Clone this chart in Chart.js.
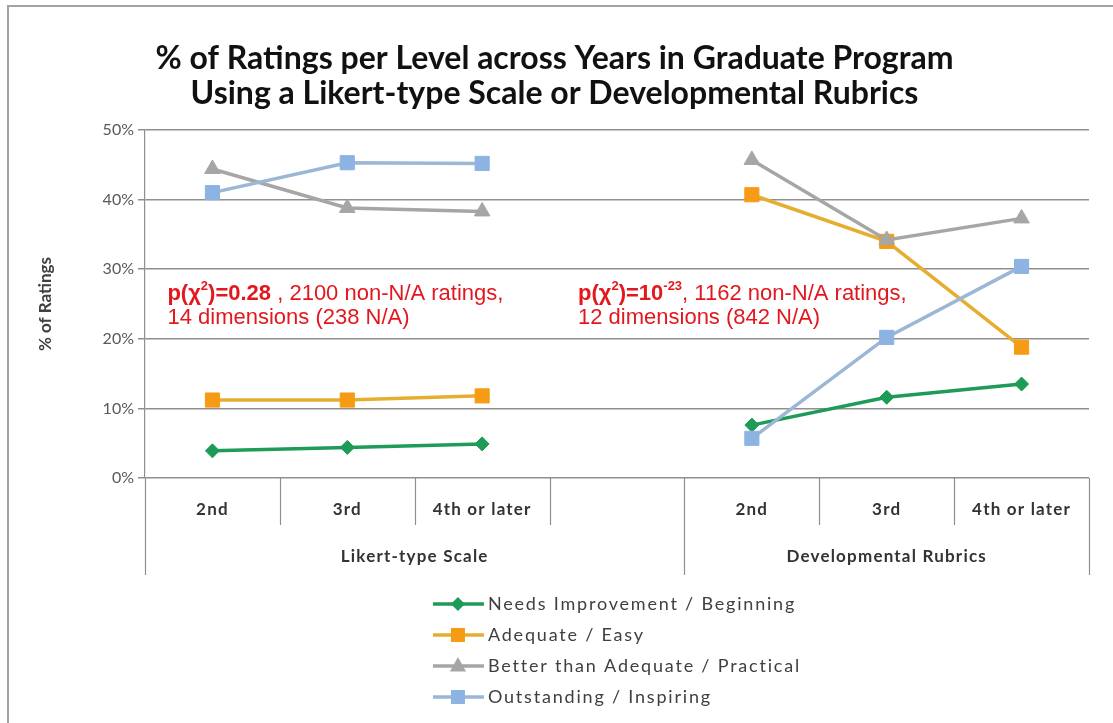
<!DOCTYPE html>
<html>
<head>
<meta charset="utf-8">
<script src="https://cdn.jsdelivr.net/npm/chart.js@4.4.0/dist/chart.umd.min.js"></script>
<style>
  body { margin: 0; background: #fff; }
  canvas { display: block; }
</style>
</head>
<body>
<canvas id="ratingsChart" width="1113" height="723"></canvas>
<script>
// values (percent of ratings)
const years = ['2nd', '3rd', '4th or later', '', '2nd', '3rd', '4th or later'];
const groupLabels = ['Likert-type Scale', 'Developmental Rubrics'];
const groupSizes = [4, 3];
const yTicks = [0, 10, 20, 30, 40, 50];

const needsImprovement = [3.9, 4.4, 4.9, null, 7.6, 11.6, 13.5];
const adequate = [11.2, 11.2, 11.8, null, 40.7, 34.0, 18.8];
const betterThanAdequate = [44.4, 38.8, 38.3, null, 45.7, 34.2, 37.3];
const outstanding = [41.0, 45.3, 45.2, null, 5.7, 20.2, 30.4];

const seriesNames = [
  'Needs Improvement / Beginning',
  'Adequate / Easy',
  'Better than Adequate / Practical',
  'Outstanding / Inspiring'
];

// red notes inside the plot
const leftNote = [
  [{ t: 'p(\u03C7', b: true }, { t: '2', b: true, sup: true }, { t: ')=0.28', b: true }, { t: ' , 2100 non-N/A ratings,' }],
  [{ t: '14 dimensions (238 N/A)' }]
];
const rightNote = [
  [{ t: 'p(\u03C7', b: true }, { t: '2', b: true, sup: true }, { t: ')=10', b: true }, { t: '-23', b: true, sup: true }, { t: ', 1162 non-N/A ratings,' }],
  [{ t: '12 dimensions (842 N/A)' }]
];

function drawRich(ctx, x, y, parts, size) {
  ctx.textBaseline = 'middle';
  ctx.textAlign = 'left';
  parts.forEach(p => {
    const s = p.sup ? Math.round(size * 0.6) : size;
    ctx.font = (p.b ? 'bold ' : '') + s + 'px "Liberation Sans", Arial, sans-serif';
    ctx.fillText(p.t, x, p.sup ? y - size * 0.33 : y);
    x += ctx.measureText(p.t).width;
  });
}

function drawMarker(ctx, style, x, y, r, color) {
  ctx.fillStyle = color;
  ctx.beginPath();
  if (style === 'rectRot') {
    ctx.moveTo(x, y - r); ctx.lineTo(x + r, y); ctx.lineTo(x, y + r); ctx.lineTo(x - r, y);
  } else if (style === 'triangle') {
    ctx.moveTo(x, y - r); ctx.lineTo(x + r * 0.9, y + r * 0.6); ctx.lineTo(x - r * 0.9, y + r * 0.6);
  } else {
    ctx.rect(x - r * 0.7, y - r * 0.7, r * 1.4, r * 1.4);
  }
  ctx.closePath();
  ctx.fill();
}

const extras = {
  id: 'extras',
  beforeDraw(chart) {
    const ctx = chart.ctx;
    ctx.save();
    ctx.fillStyle = '#fff';
    ctx.fillRect(0, 0, chart.width, chart.height);
    ctx.strokeStyle = '#a3a3a3';
    ctx.lineWidth = 2;
    ctx.beginPath();
    ctx.moveTo(8, chart.height); ctx.lineTo(8, 6); ctx.lineTo(chart.width, 6);
    ctx.stroke();
    ctx.restore();
  },
  afterDraw(chart) {
    const ctx = chart.ctx;
    const xs = chart.scales.x, ys = chart.scales.y;
    const area = chart.chartArea;
    const n = years.length;

    // divider lines of the two-level category axis
    const edges = [];
    for (let i = 0; i <= n; i++) {
      if (i === 0) edges.push(area.left);
      else if (i === n) edges.push(area.right);
      else edges.push((xs.getPixelForValue(i - 1) + xs.getPixelForValue(i)) / 2);
    }
    const groupEdges = [0];
    groupSizes.forEach(s => groupEdges.push(groupEdges[groupEdges.length - 1] + s));

    ctx.save();
    ctx.strokeStyle = '#8f8f8f';
    ctx.lineWidth = 1.2;
    edges.forEach((ex, i) => {
      const long = groupEdges.includes(i);
      ctx.beginPath();
      ctx.moveTo(Math.round(ex) + 0.5, area.bottom);
      ctx.lineTo(Math.round(ex) + 0.5, area.bottom + (long ? 97 : 47));
      ctx.stroke();
    });

    ctx.fillStyle = '#333333';
    ctx.textAlign = 'center';
    ctx.textBaseline = 'middle';
    ctx.font = 'bold 17px Lato, sans-serif';
    ctx.letterSpacing = '1.2px';
    years.forEach((lab, i) => {
      if (lab) ctx.fillText(lab, xs.getPixelForValue(i), area.bottom + 32);
    });
    groupLabels.forEach((lab, g) => {
      const cx = (edges[groupEdges[g]] + edges[groupEdges[g + 1]]) / 2;
      ctx.fillText(lab, cx, area.bottom + 79);
    });
    ctx.letterSpacing = '0px';

    // notes
    ctx.fillStyle = '#e3171e';
    const noteSize = 22;
    [[leftNote, xs.getPixelForValue(0) - 45], [rightNote, xs.getPixelForValue(3) - 39]].forEach(([note, nx]) => {
      drawRich(ctx, nx, ys.getPixelForValue(26.5), note[0], noteSize);
      drawRich(ctx, nx, ys.getPixelForValue(23.0), note[1], noteSize);
    });

    // legend, one item per row
    ctx.font = '18px Lato, sans-serif';
    ctx.letterSpacing = '1.8px';
    const widths = chart.data.datasets.map(d => ctx.measureText(d.label).width);
    const blockW = 55 + Math.max(...widths);
    const lx = (area.left + area.right) / 2 - blockW / 2;
    chart.data.datasets.forEach((d, i) => {
      const ly = area.bottom + 126 + i * 31;
      ctx.strokeStyle = d.borderColor;
      ctx.lineWidth = 3.5;
      ctx.beginPath();
      ctx.moveTo(lx, ly); ctx.lineTo(lx + 51, ly);
      ctx.stroke();
      drawMarker(ctx, d.pointStyle, lx + 25, ly, d.pointRadius, d.pointBackgroundColor);
      ctx.fillStyle = '#404040';
      ctx.textAlign = 'left';
      ctx.fillText(d.label, lx + 55, ly);
    });
    ctx.letterSpacing = '0px';
    ctx.restore();
  }
};

function series(label, data, line, marker, style, radius, order) {
  return {
    label: label,
    data: data,
    borderColor: line,
    backgroundColor: marker,
    pointBackgroundColor: marker,
    pointBorderColor: marker,
    pointStyle: style,
    pointRadius: radius,
    pointBorderWidth: 1,
    borderWidth: 3.5,
    spanGaps: false,
    order: order
  };
}

const ctx = document.getElementById('ratingsChart').getContext('2d');
const ratingsChart = new Chart(ctx, {
  type: 'line',
  data: {
    labels: years,
    datasets: [
      series(seriesNames[0], needsImprovement, '#1d9b57', '#1d9b57', 'rectRot', 7, 4),
      series(seriesNames[1], adequate, '#e6ae30', '#f59c14', 'rect', 10, 3),
      series(seriesNames[2], betterThanAdequate, '#a6a6a6', '#a6a6a6', 'triangle', 9, 2),
      series(seriesNames[3], outstanding, '#9cb6d6', '#8db3e2', 'rect', 10, 1)
    ]
  },
  options: {
    responsive: false,
    animation: false,
    layout: { padding: { top: 10, left: 20, right: 24, bottom: 148 } },
    plugins: {
      legend: { display: false },
      tooltip: { enabled: false },
      title: {
        display: true,
        text: ['% of Ratings per Level across Years in Graduate Program',
               'Using a Likert-type Scale or Developmental Rubrics'],
        font: { family: 'Lato, sans-serif', size: 32, weight: 'bold', lineHeight: 1.1 },
        color: '#111111',
        padding: { top: 31, bottom: 18.6 }
      }
    },
    scales: {
      x: {
        offset: true,
        grid: { display: false },
        border: { display: false },
        ticks: { display: false },
        afterFit: s => { s.height = 97; }
      },
      y: {
        min: 0,
        max: 50,
        afterBuildTicks: s => { s.ticks = yTicks.map(v => ({ value: v })); },
        ticks: {
          callback: v => v + '%',
          font: { family: 'Lato, sans-serif', size: 16 },
          color: '#595959',
          padding: 4
        },
        grid: { color: '#8f8f8f', lineWidth: 1.5, tickLength: 7 },
        border: { display: true, color: '#8f8f8f', width: 1.2 },
        title: {
          display: true,
          text: '% of Ratings',
          font: { family: 'Lato, sans-serif', size: 17, weight: 'bold' },
          color: '#404040',
          padding: { top: 15, bottom: 0 }
        },
        afterFit: s => { s.width = 125; }
      }
    }
  },
  plugins: [extras]
});
</script>
</body>
</html>
